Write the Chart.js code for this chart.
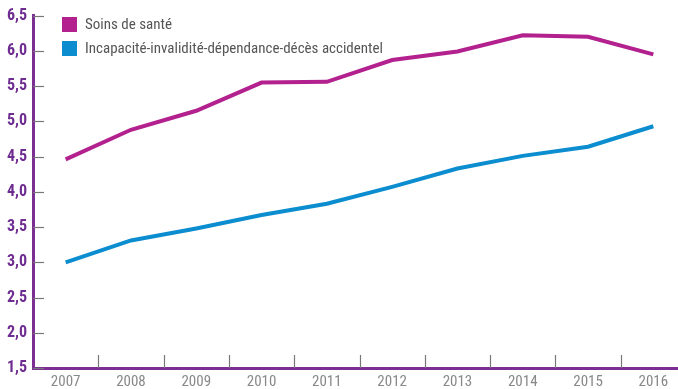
<!DOCTYPE html>
<html><head><meta charset="utf-8">
<script src="https://cdn.jsdelivr.net/npm/chart.js@4"></script>
<style>
html,body{margin:0;padding:0;background:#fff;overflow:hidden;}
#wrap{position:relative;width:678px;height:389px;overflow:hidden;}
#box{position:absolute;left:0;top:0;width:687px;height:389px;}
#legend{position:absolute;left:62px;top:12px;font-family:"Liberation Sans Narrow","Roboto Condensed",Roboto,sans-serif;font-size:15px;color:#555;}
#legend div{display:flex;align-items:center;height:24px;}
#legend span.sw{display:inline-block;width:15px;height:15px;margin-right:8px;}
</style></head>
<body>
<div id="wrap"><div id="box"><canvas id="c" width="687" height="389"></canvas></div>
<div id="legend"></div></div>
<script>
const years = ['2007','2008','2009','2010','2011','2012','2013','2014','2015','2016'];
const soinsSante = [4.46,4.88,5.15,5.55,5.56,5.87,5.99,6.22,6.20,5.95];
const incapacite = [3.00,3.31,3.48,3.67,3.83,4.07,4.33,4.51,4.64,4.93];
const seriesNames = ['Soins de santé','Incapacité-invalidité-dépendance-décès accidentel'];
const seriesColors = ['#b3218f','#0b8dcf'];
const yTicks = [1.5,2.0,2.5,3.0,3.5,4.0,4.5,5.0,5.5,6.0,6.5];

const lg = document.getElementById('legend');
seriesNames.forEach((n,i)=>{
  const d=document.createElement('div');
  d.innerHTML='<span class="sw" style="background:'+seriesColors[i]+'"></span>'+n;
  lg.appendChild(d);
});

const innerTicks = {
  id:'innerTicks',
  afterDraw(chart){
    const ctx=chart.ctx, x=chart.scales.x, y=chart.scales.y;
    ctx.save();
    ctx.strokeStyle='#777'; ctx.lineWidth=1.2;
    y.ticks.forEach((t,i)=>{
      const py=Math.round(y.getPixelForTick(i))+0.5;
      ctx.beginPath(); ctx.moveTo(x.left,py); ctx.lineTo(x.left+11,py); ctx.stroke();
    });
    for(let i=1;i<years.length;i++){
      const px=Math.round((x.getPixelForValue(i-1)+x.getPixelForValue(i))/2)+0.5;
      ctx.beginPath(); ctx.moveTo(px,y.bottom); ctx.lineTo(px,y.bottom-13); ctx.stroke();
    }
    ctx.restore();
  }
};

new Chart(document.getElementById('c'),{
  type:'line',
  data:{labels:years,datasets:[
    {label:seriesNames[0],data:soinsSante,borderColor:seriesColors[0],borderWidth:4,pointRadius:0,tension:0,borderJoinStyle:'miter'},
    {label:seriesNames[1],data:incapacite,borderColor:seriesColors[1],borderWidth:4,pointRadius:0,tension:0}
  ]},
  options:{
    responsive:false,animation:false,
    layout:{padding:{top:14,right:1,left:0,bottom:0}},
    plugins:{legend:{display:false},tooltip:{enabled:false}},
    scales:{
      x:{offset:true,
        grid:{display:true,drawOnChartArea:false,drawTicks:false,offset:true},
        border:{display:true,color:'#7b2f93',width:3},
        ticks:{color:'#888',padding:5,font:{family:'"Liberation Sans Narrow","Roboto Condensed",Roboto,sans-serif',size:15},maxRotation:0,autoSkip:false},
        afterFit(s){s.height=21;}
      },
      y:{min:1.5,max:6.5,
        afterBuildTicks(s){s.ticks=yTicks.map(v=>({value:v}));},
        grid:{display:true,drawOnChartArea:false,drawTicks:false},
        border:{display:true,color:'#7b2f93',width:3},
        ticks:{color:'#6f2c91',padding:6,font:{family:'"Liberation Sans Narrow","Roboto Condensed",Roboto,sans-serif',size:16,weight:'bold'},
          callback:v=>v.toFixed(1).replace('.',',')},
        afterFit(s){s.width=33;}
      }
    }
  },
  plugins:[innerTicks]
});
</script>
</body></html>
